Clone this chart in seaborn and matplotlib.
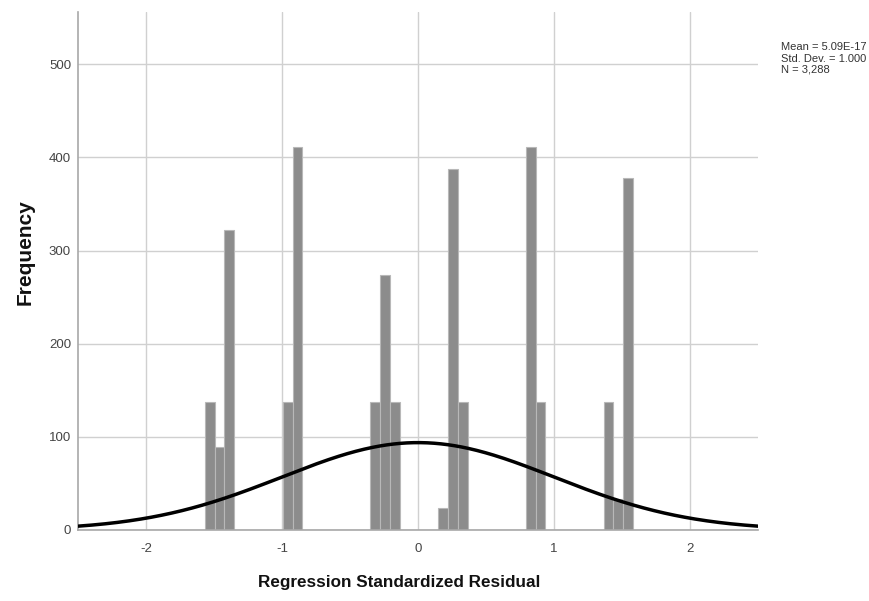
import numpy as np
import pandas as pd
import matplotlib
matplotlib.use("Agg")
import matplotlib.pyplot as plt
import seaborn as sns

# ---- data ----
residual_levels = [-1.530, -1.459, -1.387, -0.958, -0.887, -0.315, -0.243, -0.172,
                   0.186, 0.257, 0.329, 0.829, 0.901, 1.401, 1.473, 1.544]
frequencies = [137, 89, 322, 137, 411, 137, 274, 137,
               24, 387, 137, 411, 137, 137, 33, 378]
bin_start = -1.566
bin_width = 0.0715
n_bins = 44
stat_mean = 5.09e-17
stat_sd = 1.000
stat_n = 3288
x_ticks = [-2, -1, 0, 1, 2]
y_ticks = [0, 100, 200, 300, 400, 500]
stats_lines = ["Mean = 5.09E-17", "Std. Dev. = 1.000", "N = 3,288"]

df = pd.DataFrame({"resid": residual_levels, "freq": frequencies})

sns.set_style("white")
plt.rcParams["font.family"] = ["Liberation Sans", "DejaVu Sans"]

fig = plt.figure(figsize=(8.69, 6.01), dpi=100)
ax = fig.add_axes([78 / 869, 1 - 530 / 601, 680 / 869, 518 / 601])

sns.histplot(data=df, x="resid", weights="freq", bins=n_bins,
             binrange=(bin_start, bin_start + n_bins * bin_width),
             color="#8c8c8c", alpha=1.0, edgecolor="#b8b8b8", linewidth=0.8,
             ax=ax, zorder=2)

xs = np.linspace(-2.5, 2.5, 400)
ys = stat_n * bin_width * np.exp(-0.5 * ((xs - stat_mean) / stat_sd) ** 2) / (stat_sd * np.sqrt(2 * np.pi))
sns.lineplot(x=xs, y=ys, color="black", linewidth=2.5, ax=ax, zorder=3)

ax.set_xlim(-2.5, 2.5)
ax.set_ylim(0, 556)
ax.set_xticks(x_ticks)
ax.set_yticks(y_ticks)
ax.set_xticklabels([str(t) for t in x_ticks], fontsize=9.5, color="#444444")
ax.set_yticklabels([str(t) for t in y_ticks], fontsize=9.5, color="#444444")
ax.tick_params(axis="x", length=0, pad=9)
ax.tick_params(axis="y", length=0, pad=5)
ax.grid(True, color="#d0d0d0", linewidth=1.0, zorder=0)
ax.set_axisbelow(True)
for s in ["top", "right"]:
    ax.spines[s].set_visible(False)
for s in ["left", "bottom"]:
    ax.spines[s].set_color("#a8a8a8")
    ax.spines[s].set_linewidth(1.2)

ax.set_xlabel("Regression Standardized Residual", fontsize=12.3, fontweight="bold",
              color="#111111")
ax.set_ylabel("Frequency", fontsize=15, fontweight="bold", color="#111111")
ax.xaxis.set_label_coords(0.472, -0.087)
ax.yaxis.set_label_coords(-0.064, 0.537)

for i, line in enumerate(stats_lines):
    fig.text(781 / 869, 1 - (47 + i * 11.5) / 601, line, fontsize=8, color="#333333",
             ha="left", va="center")

fig.savefig("out.png", dpi=100)
